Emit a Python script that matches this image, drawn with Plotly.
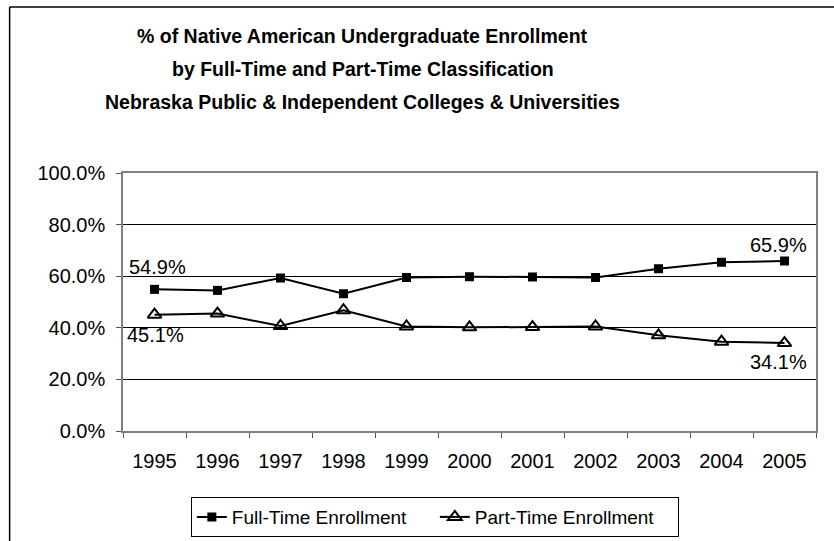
import plotly.graph_objects as go

years = ["1995", "1996", "1997", "1998", "1999", "2000", "2001", "2002", "2003", "2004", "2005"]
full_time = [54.9, 54.5, 59.3, 53.2, 59.5, 59.8, 59.7, 59.5, 62.9, 65.4, 65.9]
part_time = [45.1, 45.5, 40.7, 46.8, 40.5, 40.2, 40.3, 40.5, 37.1, 34.6, 34.1]

title_lines = [
    "% of Native American Undergraduate Enrollment",
    "by Full-Time and Part-Time Classification",
    "Nebraska Public & Independent Colleges & Universities",
]

FONT = "Liberation Sans, Arial, sans-serif"

fig = go.Figure()
fig.add_trace(go.Scatter(
    x=years, y=full_time, name="Full-Time Enrollment", mode="lines+markers",
    line=dict(color="black", width=2),
    marker=dict(symbol="square", size=9, color="black"),
))
fig.add_trace(go.Scatter(
    x=years, y=part_time, name="Part-Time Enrollment", mode="lines+markers",
    line=dict(color="black", width=2),
    marker=dict(symbol="triangle-up-open", size=12, color="black", line=dict(width=2, color="black")),
))

annotations = []
ty = [1.5295, 1.405, 1.277]
for line, yy in zip(title_lines, ty):
    annotations.append(dict(text="<b>" + line + "</b>", xref="paper", yref="paper", x=0.346, y=yy,
                            xanchor="center", yanchor="middle", showarrow=False,
                            font=dict(family=FONT, size=19.5, color="black")))

first, last = 0, len(years) - 1
lab_font = dict(family=FONT, size=20, color="black")
annotations += [
    dict(x=first, y=full_time[first], text=f"{full_time[first]:.1f}%", showarrow=False, yshift=22, xshift=3, font=lab_font),
    dict(x=first, y=part_time[first], text=f"{part_time[first]:.1f}%", showarrow=False, yshift=-20, xshift=1, font=lab_font),
    dict(x=last, y=full_time[last], text=f"{full_time[last]:.1f}%", showarrow=False, yshift=16, xshift=-6, font=lab_font),
    dict(x=last, y=part_time[last], text=f"{part_time[last]:.1f}%", showarrow=False, yshift=-19, xshift=-6, font=lab_font),
]

fig.update_layout(
    width=834, height=541,
    margin=dict(l=123, r=18, t=173, b=110, autoexpand=False),
    paper_bgcolor="white", plot_bgcolor="white",
    font=dict(family=FONT, size=20, color="black"),
    showlegend=True,
    legend=dict(orientation="h", x=0.45, xanchor="center", y=-0.411, yanchor="bottom",
                bordercolor="black", borderwidth=1, bgcolor="white",
                font=dict(family=FONT, size=19, color="black"),
                entrywidth=198, entrywidthmode="pixels", tracegroupgap=0),
    annotations=annotations,
    shapes=[
        dict(type="line", xref="paper", yref="paper", x0=-0.1636, x1=1.03, y0=1.643, y1=1.643,
             line=dict(color="black", width=1.5)),
        dict(type="line", xref="paper", yref="paper", x0=-0.1636, x1=-0.1636, y0=1.643, y1=-0.45,
             line=dict(color="black", width=1.5)),
    ],
)
fig.update_xaxes(type="category", range=[-0.5, 10.5], tickson="boundaries", ticks="outside",
                 ticklen=5, tickcolor="#555", showline=True, linecolor="#808080", linewidth=1.5,
                 mirror=True, showgrid=False, tickfont=dict(size=20), ticklabelstandoff=11)
fig.update_yaxes(range=[0, 100], dtick=20, tickformat=".1f", ticksuffix="%", ticks="outside",
                 ticklen=5, tickcolor="#555", showline=True, linecolor="#808080", linewidth=1.5,
                 mirror=True, showgrid=True, gridcolor="black", gridwidth=1, zeroline=False,
                 tickfont=dict(size=20), ticklabelstandoff=7)

fig.write_html("out.html", config={"displayModeBar": False},
               post_script="document.body.style.margin='0';")
